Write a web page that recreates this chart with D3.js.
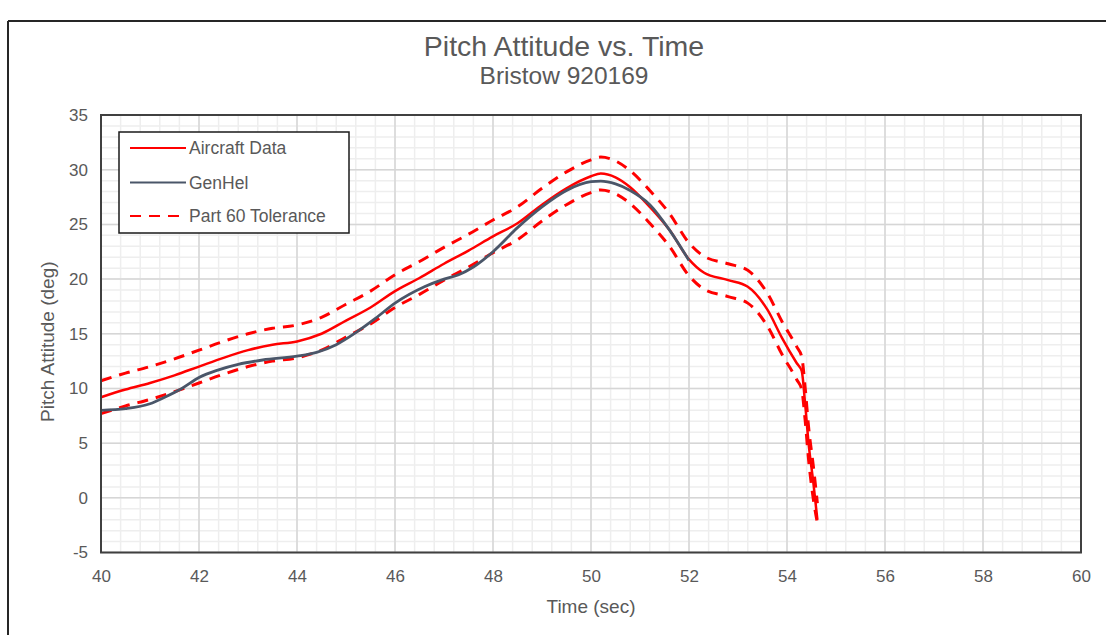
<!DOCTYPE html>
<html>
<head>
<meta charset="utf-8">
<script src="https://cdn.jsdelivr.net/npm/d3@7"></script>
<style>
  html, body { margin: 0; padding: 0; background: #ffffff; }
  svg { display: block; font-family: "Liberation Sans", Arial, sans-serif; }
</style>
</head>
<body>
<svg id="chart" width="1106" height="635"></svg>
<script>
// Aircraft data (flight test) and tolerance band sample times, seconds
const aircraftTime = [40, 40.5, 41, 41.5, 42, 42.5, 43, 43.5, 44, 44.5, 45, 45.5, 46, 46.5, 47, 47.5, 48, 48.5, 49, 49.5, 50, 50.2, 50.5, 50.8, 51.2, 51.6, 52, 52.3, 52.8, 53.2, 53.6, 53.9, 54.2, 54.3, 54.37, 54.44, 54.54, 54.62];
const aircraftPitch = [9.2, 9.9, 10.5, 11.2, 12.0, 12.8, 13.5, 14.0, 14.3, 15.0, 16.2, 17.4, 18.9, 20.1, 21.4, 22.6, 23.9, 25.1, 26.8, 28.3, 29.4, 29.65, 29.3, 28.4, 26.6, 24.5, 21.8, 20.6, 19.9, 19.3, 17.2, 14.6, 12.3, 11.6, 8.6, 5.0, 1.3, -2.0];

// Part 60 tolerance band, upper and lower edges
const toleranceUpper = [10.7, 11.4, 12.0, 12.7, 13.5, 14.3, 15.0, 15.5, 15.8, 16.5, 17.7, 18.9, 20.4, 21.6, 22.9, 24.1, 25.4, 26.6, 28.3, 29.8, 30.9, 31.15, 30.8, 29.9, 28.1, 26.0, 23.3, 22.1, 21.4, 20.8, 18.7, 16.1, 13.8, 12.9, 10.1, 6.5, 2.8, -0.5];
const toleranceLower = [7.7, 8.4, 9.0, 9.7, 10.5, 11.3, 12.0, 12.5, 12.8, 13.5, 14.7, 15.9, 17.4, 18.6, 19.9, 21.1, 22.4, 23.6, 25.3, 26.8, 27.9, 28.15, 27.8, 26.9, 25.1, 23.0, 20.3, 19.1, 18.4, 17.8, 15.7, 13.1, 10.8, 9.9, 7.1, 3.5, -0.2, -2.3];

// GenHel simulation
const genhelTime = [40, 40.5, 41, 41.3, 41.65, 42, 42.4, 42.8, 43.3, 44, 44.4, 44.8, 45.2, 45.6, 46, 46.6, 47, 47.3, 47.6, 48, 48.5, 49, 49.5, 50, 50.2, 50.5, 50.8, 51.2, 51.6, 52];
const genhelPitch = [8.0, 8.15, 8.6, 9.2, 10.0, 11.0, 11.7, 12.2, 12.6, 12.95, 13.3, 14.0, 15.1, 16.4, 17.8, 19.3, 20.0, 20.4, 21.1, 22.5, 24.7, 26.6, 28.1, 28.9, 28.95, 28.7, 28.1, 26.8, 24.5, 21.7];

// Axis ticks
const xTicks = [40, 42, 44, 46, 48, 50, 52, 54, 56, 58, 60];
const yTicks = [-5, 0, 5, 10, 15, 20, 25, 30, 35];

const seriesNames = ["Aircraft Data", "GenHel", "Part 60 Tolerance"];

const svg = d3.select("#chart");
const textColor = "#595959";
const red = "#ff0000";
const slate = "#4a5669";

const plot = { left: 101, right: 1081, top: 115, bottom: 552.5 };
const x = d3.scaleLinear().domain([40, 60]).range([plot.left, plot.right]);
const y = d3.scaleLinear().domain([-5, 35]).range([plot.bottom, plot.top]);

// outer frame edges
svg.append("line").attr("x1", 8).attr("x2", 1106).attr("y1", 21).attr("y2", 21)
  .attr("stroke", "#262626").attr("stroke-width", 2);
svg.append("line").attr("x1", 8).attr("x2", 8).attr("y1", 21).attr("y2", 635)
  .attr("stroke", "#262626").attr("stroke-width", 2);

// titles
svg.append("text").attr("x", 564).attr("y", 56).attr("text-anchor", "middle")
  .attr("font-size", 28.5).attr("fill", textColor).text("Pitch Attitude vs. Time");
svg.append("text").attr("x", 564).attr("y", 84).attr("text-anchor", "middle")
  .attr("font-size", 24.5).attr("fill", textColor).text("Bristow 920169");

// gridlines: minor then major
const grid = svg.append("g");
const xMinor = d3.range(40, 60.001, 0.4);
const yMinor = d3.range(-5, 35.001, 1);
grid.selectAll(".xminor").data(xMinor).join("line")
  .attr("x1", d => x(d)).attr("x2", d => x(d)).attr("y1", plot.top).attr("y2", plot.bottom)
  .attr("stroke", "#eeeeee").attr("stroke-width", 1.5);
grid.selectAll(".yminor").data(yMinor).join("line")
  .attr("x1", plot.left).attr("x2", plot.right).attr("y1", d => y(d)).attr("y2", d => y(d))
  .attr("stroke", "#eeeeee").attr("stroke-width", 1.5);
grid.selectAll(".xmajor").data(xTicks).join("line")
  .attr("x1", d => x(d)).attr("x2", d => x(d)).attr("y1", plot.top).attr("y2", plot.bottom)
  .attr("stroke", "#d6d6d6").attr("stroke-width", 1.5);
grid.selectAll(".ymajor").data(yTicks).join("line")
  .attr("x1", plot.left).attr("x2", plot.right).attr("y1", d => y(d)).attr("y2", d => y(d))
  .attr("stroke", "#d6d6d6").attr("stroke-width", 1.5);

// axes (labels only; frame drawn separately), plain hyphen for negatives
const plain = d => String(d);
const xAxis = svg.append("g").attr("transform", `translate(0,${plot.bottom})`)
  .call(d3.axisBottom(x).tickValues(xTicks).tickSize(0).tickPadding(17).tickFormat(plain));
const yAxis = svg.append("g").attr("transform", `translate(${plot.left},0)`)
  .call(d3.axisLeft(y).tickValues(yTicks).tickSize(0).tickPadding(13).tickFormat(plain));
[xAxis, yAxis].forEach(g => {
  g.select(".domain").remove();
  g.selectAll("text").attr("font-size", 17).attr("fill", textColor)
    .attr("font-family", "'Liberation Sans', Arial, sans-serif");
});

// axis titles
svg.append("text").attr("x", 591).attr("y", 613).attr("text-anchor", "middle")
  .attr("font-size", 19).attr("fill", textColor).text("Time (sec)");
svg.append("text").attr("transform", `translate(54,${(plot.top + plot.bottom) / 2 + 8}) rotate(-90)`)
  .attr("text-anchor", "middle").attr("font-size", 19).attr("fill", textColor)
  .text("Pitch Attitude (deg)");

// series
const line = d3.line().x(d => x(d[0])).y(d => y(d[1])).curve(d3.curveMonotoneX);
const zip = (ts, vs) => ts.map((t, i) => [t, vs[i]]);

const marks = svg.append("g");
marks.append("path").datum(zip(aircraftTime, toleranceUpper)).attr("d", line)
  .attr("fill", "none").attr("stroke", red).attr("stroke-width", 3).attr("stroke-dasharray", "11,8");
marks.append("path").datum(zip(aircraftTime, toleranceLower)).attr("d", line)
  .attr("fill", "none").attr("stroke", red).attr("stroke-width", 3).attr("stroke-dasharray", "11,8");
marks.append("path").datum(zip(aircraftTime, aircraftPitch)).attr("d", line)
  .attr("fill", "none").attr("stroke", red).attr("stroke-width", 2.5);
marks.append("path").datum(zip(genhelTime, genhelPitch)).attr("d", line)
  .attr("fill", "none").attr("stroke", slate).attr("stroke-width", 2.8);

// plot frame
svg.append("rect").attr("x", plot.left).attr("y", plot.top)
  .attr("width", plot.right - plot.left).attr("height", plot.bottom - plot.top)
  .attr("fill", "none").attr("stroke", "#404040").attr("stroke-width", 2);

// legend
const legend = svg.append("g");
legend.append("rect").attr("x", 119).attr("y", 132).attr("width", 230).attr("height", 101)
  .attr("fill", "#ffffff").attr("stroke", "#1a1a1a").attr("stroke-width", 1.5);
const legendStyles = [
  { stroke: red, dash: null, width: 2 },
  { stroke: slate, dash: null, width: 2 },
  { stroke: red, dash: "11,8", width: 2 }
];
const legendY = [148, 182.5, 216];
seriesNames.forEach((name, i) => {
  const s = legendStyles[i];
  legend.append("line").attr("x1", 130).attr("x2", 186).attr("y1", legendY[i]).attr("y2", legendY[i])
    .attr("stroke", s.stroke).attr("stroke-width", s.width)
    .attr("stroke-dasharray", s.dash);
  legend.append("text").attr("x", 189).attr("y", legendY[i] + 6)
    .attr("font-size", 17.5).attr("fill", textColor).text(name);
});
</script>
</body>
</html>
